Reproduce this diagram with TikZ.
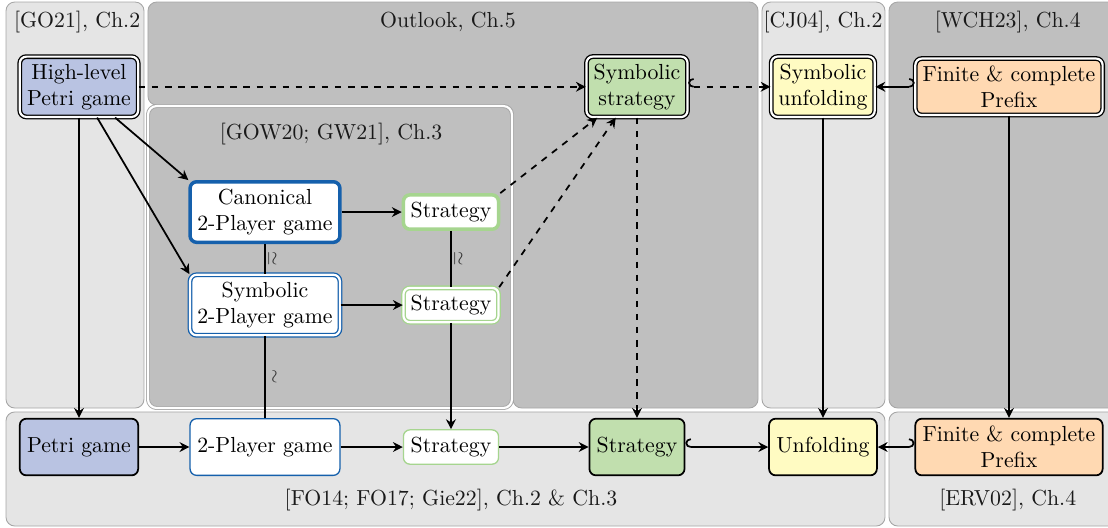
\documentclass[tikz,border=0pt]{standalone}
\usepackage{amsmath,amssymb}
\usepackage{tikz}
\usetikzlibrary{arrows.meta}
\definecolor{hlBlue}{HTML}{B9C3E2}
\definecolor{gameBlue}{HTML}{1560AC}
\definecolor{stratGreen}{HTML}{A6D58F}
\definecolor{symGreen}{HTML}{C1DFAE}
\definecolor{unfYellow}{HTML}{FFFBC2}
\definecolor{prefixPeach}{HTML}{FFD9B2}

\begin{document}
\begin{tikzpicture}[
    regionLight/.style={draw=gray!70, fill=gray!20, rounded corners=4pt},
    regionDark/.style={draw=gray!70, fill=gray!50, rounded corners=4pt},
    regionLabel/.style={text=black!90, inner sep=2pt},
    boxBase/.style={rectangle, rounded corners=3pt, align=center},
    boxTop/.style={boxBase, draw, semithick, double, double distance=1pt},
    boxBottom/.style={boxBase, draw, thick, minimum height=26pt},
    relLabel/.style={font=\footnotesize, inner sep=1pt, text=black!80},
    arrowStyle/.style={-{Stealth[length=4.5pt,width=4.5pt]}, thick},
    dashStyle/.style={arrowStyle, dashed},
    hookStyle/.style={{Hooks[#1,length=2.5pt,width=8pt]}-{Stealth[length=4.5pt,width=4.5pt]}, thick}
]
    \useasboundingbox (-1.274,-1.306) rectangle (16.597,7.21);

    \draw[regionLight] (-1.177,0.629) rectangle (1.048,7.177);
    \draw[regionDark] (1.113,7.177) -- (10.952,7.177) -- (10.952,0.629) -- (7.0,0.629) -- (7.0,5.516) -- (1.113,5.516) -- cycle;
    \draw[regionDark, double=white, double distance=1pt] (1.113,0.629) rectangle (6.984,5.5);
    \draw[regionLight] (11.016,0.629) rectangle (13.0,7.177);
    \draw[regionDark] (13.065,0.629) rectangle (16.8,7.177);
    \draw[regionLight] (-1.177,-1.274) rectangle (13.0,0.565);
    \draw[regionLight] (13.065,-1.274) rectangle (16.8,0.565);

    \node[regionLabel] (lblGO) at (-0.03,6.855) {[GO21], Ch.2};
    \node[regionLabel] (lblOutlook) at (5.95,6.855) {Outlook, Ch.5};
    \node[regionLabel] (lblGOW) at (4.065,5.04) {[GOW20; GW21], Ch.3};
    \node[regionLabel] (lblCJ) at (12.0,6.855) {[CJ04], Ch.2};
    \node[regionLabel] (lblWCH) at (14.98,6.855) {[WCH23], Ch.4};
    \node[regionLabel] (lblFO) at (6.0,-0.855) {[FO14; FO17; Gie22], Ch.2 \& Ch.3};
    \node[regionLabel] (lblERV) at (14.98,-0.855) {[ERV02], Ch.4};

    \node[boxTop, fill=hlBlue] (hlpg) at (0,5.81) {High-level\\Petri game};
    \node[boxBase, draw=gameBlue, fill=white, line width=1.6pt] (canon) at (3,3.79) {Canonical\\2-Player game};
    \node[boxTop, draw=gameBlue, fill=white] (symb2) at (3,2.29) {Symbolic\\2-Player game};
    \node[boxBase, draw=stratGreen, fill=white, line width=1.6pt] (strat1) at (6,3.79) {Strategy};
    \node[boxTop, draw=stratGreen, fill=white] (strat2) at (6,2.29) {Strategy};
    \node[boxTop, fill=symGreen] (symstrat) at (9,5.81) {Symbolic\\strategy};
    \node[boxTop, fill=unfYellow] (symunf) at (12,5.81) {Symbolic\\unfolding};
    \node[boxTop, fill=prefixPeach] (fcpTop) at (15,5.81) {Finite \& complete\\Prefix};

    \node[boxBottom, fill=hlBlue] (petri) at (0,0) {Petri game};
    \node[boxBottom, draw=gameBlue, fill=white, semithick] (twop) at (3,0) {2-Player game};
    \node[boxBase, draw=stratGreen, fill=white, semithick] (strat3) at (6,0) {Strategy};
    \node[boxBottom, fill=symGreen] (strat4) at (9,0) {Strategy};
    \node[boxBottom, fill=unfYellow] (unf) at (12,0) {Unfolding};
    \node[boxBottom, fill=prefixPeach] (fcpBottom) at (15,0) {Finite \& complete\\Prefix};

    \draw[arrowStyle] (hlpg) -- (petri);
    \draw[arrowStyle] (hlpg) -- (canon.north west);
    \draw[arrowStyle] (hlpg) -- (symb2.north west);
    \draw[dashStyle] (hlpg) -- (symstrat);
    \draw[thick] (canon) -- node[relLabel, right] {\rotatebox{-90}{$\simeq$}} (symb2);
    \draw[thick] (symb2) -- node[relLabel, right=1pt] {\rotatebox{-90}{$\sim$}} (twop);
    \draw[arrowStyle] (canon) -- (strat1);
    \draw[arrowStyle] (symb2) -- (strat2);
    \draw[thick] (strat1) -- node[relLabel, right] {\rotatebox{-90}{$\simeq$}} (strat2);
    \draw[arrowStyle] (strat2) -- (strat3);
    \draw[dashStyle] (strat1.north east) -- (symstrat);
    \draw[dashStyle] (strat2.north east) -- (symstrat);
    \draw[dashStyle] (symstrat) -- (strat4);
    \draw[hookStyle=right, dashed] (symstrat) -- (symunf);
    \draw[hookStyle=left] (fcpTop) -- (symunf);
    \draw[arrowStyle] (symunf) -- (unf);
    \draw[arrowStyle] (fcpTop) -- (fcpBottom);

    \draw[arrowStyle] (petri) -- (twop);
    \draw[arrowStyle] (twop) -- (strat3);
    \draw[arrowStyle] (strat3) -- (strat4);
    \draw[hookStyle=right] (strat4) -- (unf);
    \draw[hookStyle=left] (fcpBottom) -- (unf);
\end{tikzpicture}
\end{document}
